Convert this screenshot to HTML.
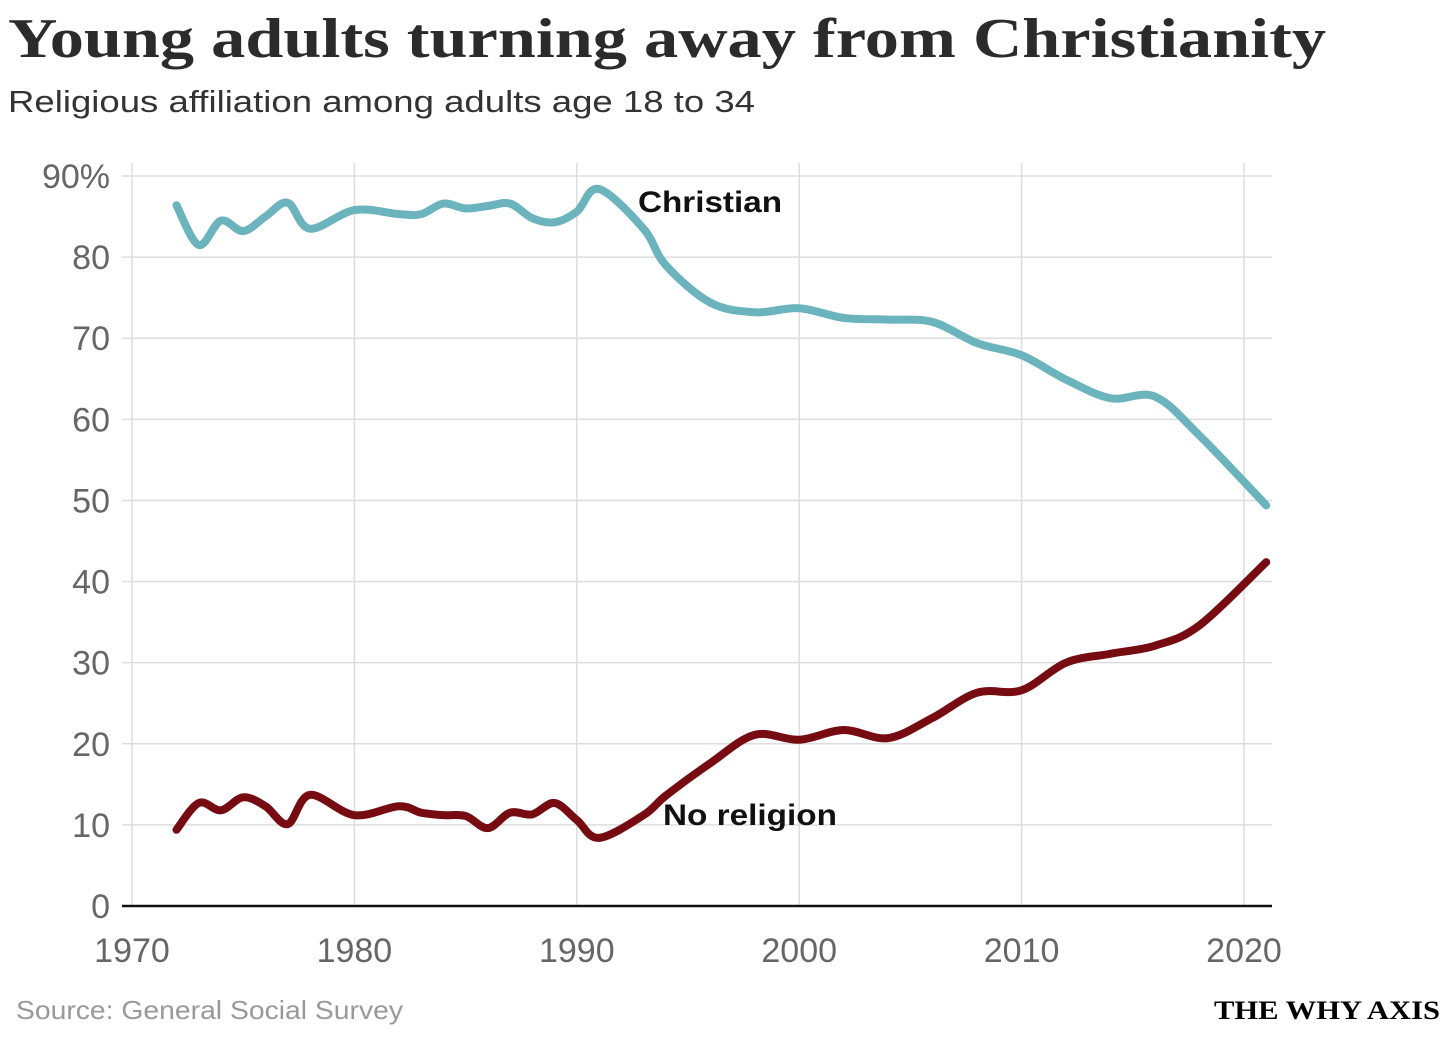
<!DOCTYPE html>
<html><head><meta charset="utf-8"><style>
body{margin:0;width:1456px;height:1032px;background:#fff;overflow:hidden;font-family:"Liberation Sans",sans-serif}
</style></head><body>
<svg width="1456" height="1032" id="svg">
<text x="8" y="57" font-family="Liberation Serif,serif" font-weight="bold" font-size="56" fill="#2b2b2b" textLength="1318" lengthAdjust="spacingAndGlyphs">Young adults turning away from Christianity</text>
<text x="8" y="112" font-size="31" fill="#333" textLength="747" lengthAdjust="spacingAndGlyphs">Religious affiliation among adults age 18 to 34</text>
<g id="grid"></g><g id="lines"></g>
<text x="638" y="212" font-size="30" font-weight="bold" fill="#111" textLength="144" lengthAdjust="spacingAndGlyphs">Christian</text>
<text x="663" y="825" font-size="30" font-weight="bold" fill="#111" textLength="174" lengthAdjust="spacingAndGlyphs">No religion</text>
<text x="16" y="1019" font-size="26" fill="#999" textLength="387" lengthAdjust="spacingAndGlyphs">Source: General Social Survey</text>
<text x="1214" y="1019" font-family="Liberation Serif,serif" font-weight="bold" font-size="26" fill="#000" textLength="226" lengthAdjust="spacingAndGlyphs">THE WHY AXIS</text>
</svg>
<script>
const years=[1972,1973,1974,1975,1976,1977,1978,1980,1982,1983,1984,1985,1986,1987,1988,1989,1990,1991,1993,1994,1996,1998,2000,2002,2004,2006,2008,2010,2012,2014,2016,2018,2021];
const christian=[86.4,81.5,84.5,83.2,85,86.7,83.5,85.8,85.3,85.3,86.6,86,86.3,86.6,84.8,84.3,85.6,88.4,83.5,79,74.4,73.2,73.7,72.5,72.3,72,69.4,67.9,64.9,62.6,62.8,58,49.4];
const noReligion=[9.4,12.7,11.8,13.4,12.3,10.1,13.7,11.2,12.3,11.5,11.2,11.1,9.6,11.5,11.3,12.7,10.6,8.4,11.2,13.6,17.6,21.1,20.5,21.7,20.7,23.2,26.3,26.6,30,31.1,32.1,34.6,42.4];
const yTicks=[0,10,20,30,40,50,60,70,80,90];
const xTicks=[1970,1980,1990,2000,2010,2020];
const X=y=>132+(y-1970)*22.24, Y=v=>906-v*8.111;
const ns="http://www.w3.org/2000/svg";
function mk(t,a,p){const e=document.createElementNS(ns,t);for(const k in a)e.setAttribute(k,a[k]);p.appendChild(e);return e;}
const g=document.getElementById('grid'),L=document.getElementById('lines');
xTicks.forEach(t=>{
 const l=mk('line',{x1:X(t),x2:X(t),y1:163,y2:906,stroke:'#ddd','stroke-width':1.5},g);
 
 
 const tx=mk('text',{x:X(t),y:962,'text-anchor':'middle','font-size':34,fill:'#666'},g);tx.textContent=t;
 
 
});
yTicks.forEach(t=>{
 if(t>0){const l=mk('line',{x1:122,x2:1272,y1:Y(t),y2:Y(t),stroke:'#ddd','stroke-width':1.5},g);
 
 }
 const tx=mk('text',{x:110,y:Y(t)+12,'text-anchor':'end','font-size':34,fill:'#666'},g);tx.textContent=t===90?'90%':t;
 
 
});
const ax=mk('line',{x1:122,x2:1272,y1:906,y2:906,stroke:'#111','stroke-width':2.5},g);


function path(vals){const p=years.map((y,i)=>[X(y),Y(vals[i])]);let d='M'+p[0];
 for(let i=0;i<p.length-1;i++){const a=p[i-1]||p[i],b=p[i],c=p[i+1],e=p[i+2]||c;
 d+=`C${b[0]+(c[0]-a[0])/6},${b[1]+(c[1]-a[1])/6} ${c[0]-(e[0]-b[0])/6},${c[1]-(e[1]-b[1])/6} ${c[0]},${c[1]}`;}return d;}
const c1=mk('path',{d:path(christian),fill:'none',stroke:'#6bb3bd','stroke-width':8,'stroke-linecap':'round'},L);


const c2=mk('path',{d:path(noReligion),fill:'none',stroke:'#760c12','stroke-width':8,'stroke-linecap':'round'},L);


</script>
</body></html>
